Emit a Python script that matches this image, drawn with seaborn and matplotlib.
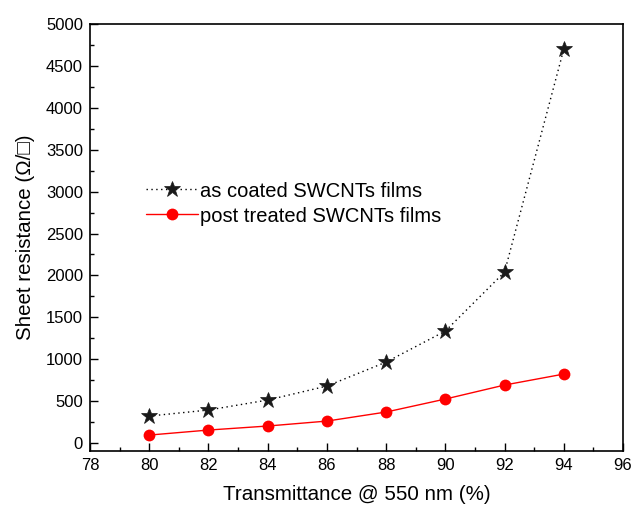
import matplotlib
matplotlib.use("Agg")
import matplotlib.pyplot as plt
import seaborn as sns
import pandas as pd
from matplotlib.ticker import MultipleLocator

transmittance = [80, 82, 84, 86, 88, 90, 92, 94]
as_coated = [322, 394, 513, 680, 966, 1336, 2040, 4700]
post_treated = [95, 155, 203, 262, 370, 525, 692, 823]
label_coated = "as coated SWCNTs films"
label_post = "post treated SWCNTs films"

df = pd.DataFrame({"T": transmittance, "coated": as_coated, "post": post_treated})

sns.set_style("ticks")
plt.rcParams['font.family'] = ['Liberation Sans', 'DejaVu Sans']
plt.rcParams['text.color'] = 'black'
plt.rcParams['axes.labelcolor'] = 'black'
plt.rcParams['xtick.color'] = 'black'
plt.rcParams['ytick.color'] = 'black'

fig = plt.figure(figsize=(6.33, 5.08), dpi=100)
ax = fig.add_axes([90/633, (508-451)/508, (623-90)/633, (451-24)/508])

sns.lineplot(data=df, x="T", y="coated", ax=ax, color="black", linestyle=(0, (1, 2.5)),
             linewidth=1.0, marker="*", markersize=12, markeredgewidth=0.5,
             markerfacecolor="#1a1a1a", markeredgecolor="#1a1a1a", label=label_coated)
sns.lineplot(data=df, x="T", y="post", ax=ax, color="red", linewidth=1.0,
             marker="o", markersize=8.5, markeredgewidth=0, label=label_post)

ax.set_xlim(78, 96)
ax.set_ylim(-95, 5000)
ax.xaxis.set_major_locator(MultipleLocator(2))
ax.xaxis.set_minor_locator(MultipleLocator(1))
ax.yaxis.set_major_locator(MultipleLocator(500))
ax.yaxis.set_minor_locator(MultipleLocator(250))
ax.tick_params(axis='both', which='both', direction='in', top=False, right=False,
               bottom=True, left=True, labelsize=12, color='black', labelcolor='black')
ax.tick_params(which='major', length=6, width=1, pad=5)
ax.tick_params(which='minor', length=3, width=1)
for s in ax.spines.values():
    s.set_visible(True)
    s.set_linewidth(1.2)
    s.set_color('black')

ax.set_xlabel("Transmittance @ 550 nm (%)", fontsize=14.8, labelpad=9)
ax.set_ylabel("Sheet resistance (Ω/\u25a1)", fontsize=14.8, labelpad=8)

leg = ax.legend(loc='upper left', bbox_to_anchor=(0.09, 0.65), frameon=False,
                fontsize=14.5, handlelength=2.6, handletextpad=0.1, labelspacing=0.3,
                borderaxespad=0)

fig.savefig("out.png", dpi=100)
